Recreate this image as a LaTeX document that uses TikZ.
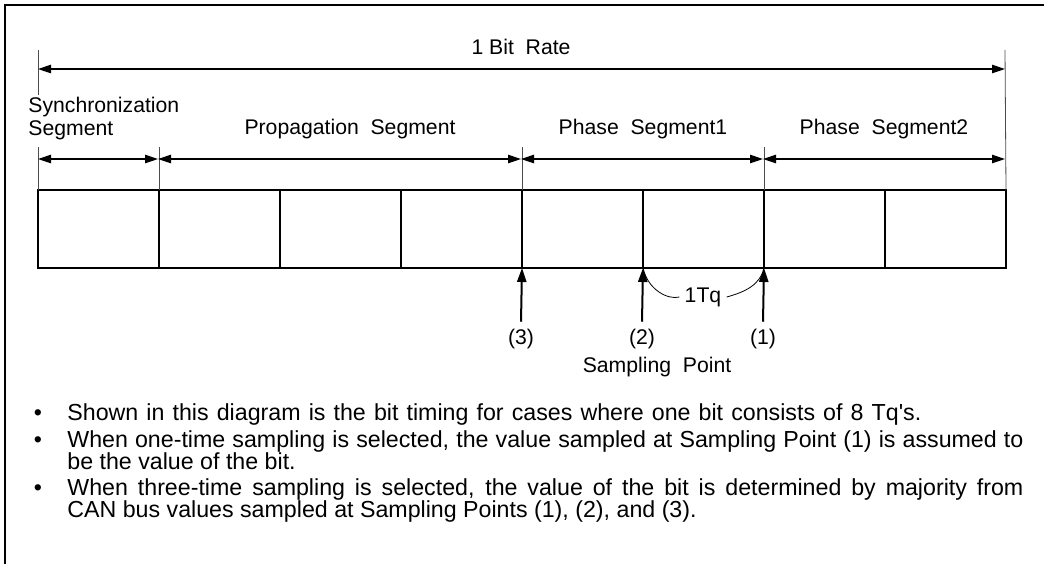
\documentclass[tikz,border=0pt]{standalone}
\usepackage{fontspec}
\setmainfont{Liberation Sans}
\setsansfont{Liberation Sans}
\usetikzlibrary{arrows.meta,positioning,calc}

\begin{document}
\begin{tikzpicture}[x=0.5pt,y=-0.5pt,font=\sffamily,
    lbl/.style={font=\fontsize{10.6}{12}\selectfont,inner sep=0pt},
    note/.style={font=\fontsize{11.6}{13}\selectfont,inner sep=0pt,anchor=base west},
    dot/.style={font=\fontsize{11.6}{13}\selectfont,inner sep=0pt,anchor=base},
    dim/.style={line width=0.6pt,{Triangle[length=6.5pt,width=4.2pt]}-{Triangle[length=6.5pt,width=4.2pt]}},
    tick/.style={line width=0.4pt,draw=black!70},
    cell/.style={draw,line width=0.8pt,minimum width=60.5pt,minimum height=39pt,inner sep=0pt,outer sep=0pt},
    samp/.style={line width=1pt,-{Triangle[length=7pt,width=4.6pt]}}]
\useasboundingbox (0,0) rectangle (1044,564);
% frame
\draw[line width=0.7pt] (5,564) -- (5,5) -- (1044,5);

% time quanta
\foreach \i in {1,...,8}
  \node[cell] (c\i) at ({38+121*(\i-0.5)},229) {};

% 1 bit rate
\coordinate (r0) at (38,69);
\coordinate (r1) at (1005,69);
\draw[tick] ([yshift=9.5pt]r0) -- ([yshift=-13pt]r0);
\draw[tick] ([yshift=9.5pt]r1) -- (c8.north east);
\draw[dim] (r0) -- (r1);
\node[lbl] (bit) at (521,47) {1 Bit~~Rate};

% segments
\coordinate (s0) at (38,159);
\coordinate (s1) at (158,159);
\coordinate (s2) at (521,159);
\coordinate (s3) at (763,159);
\coordinate (s4) at (1005,159);
\foreach \c in {c1.north west,c2.north west,c4.north east,c6.north east}
  \draw[tick] (\c) -- ++(0,-43);
\draw[dim] (s0) -- (s1);
\draw[dim] (s1) -- (s2);
\draw[dim] (s2) -- (s3);
\draw[dim] (s3) -- (s4);
\node[lbl,anchor=west] (sync) at (28,107) {Synchronization};
\node[lbl,anchor=west] (syncb) at (28,130) {Segment};
\node[lbl] (prop) at (350,129) {Propagation~~Segment};
\node[lbl] (ph1) at (643,129) {Phase~~Segment1};
\node[lbl] (ph2) at (884,129) {Phase~~Segment2};

% sampling points
\node[lbl] (n3) at (521,339) {(3)};
\node[lbl] (n2) at (642,339) {(2)};
\node[lbl] (n1) at (763,339) {(1)};
\node[lbl] (sp) at (657,367) {Sampling~~Point};
\draw[samp] ([yshift=3.5pt]n3.north) -- (c4.south east);
\draw[samp] ([yshift=3.5pt]n2.north) -- (c5.south east);
\draw[samp] ([yshift=3.5pt]n1.north) -- (c6.south east);
\node[lbl,inner sep=2.5pt] (tq) at (703,297) {1Tq};
\draw[line width=0.4pt] (c5.south east) .. controls (648,290) and (668,300) .. (tq.west);
\draw[line width=0.4pt] (tq.east) .. controls (745,292) and (760,285) .. (c6.south east);

% notes
\node[dot] (k1) at (38,420) {\textbullet};
\node[dot] (k2) at (38,447) {\textbullet};
\node[dot] (k3) at (38,495) {\textbullet};
\node[note] (t1) at (67,420) {\makebox[427pt][s]{Shown in this diagram is the bit timing for cases where one bit consists of 8 Tq\textquotesingle s.}};
\node[note] (t2) at (67,447) {\makebox[478pt][s]{When one-time sampling is selected, the value sampled at Sampling Point (1) is assumed to}};
\node[note] (t3) at (67,469) {be the value of the bit.};
\node[note] (t4) at (67,495) {\makebox[478pt][s]{When three-time sampling is selected, the value of the bit is determined by majority from}};
\node[note] (t5) at (67,517) {CAN bus values sampled at Sampling Points (1), (2), and (3).};
\end{tikzpicture}
\end{document}
